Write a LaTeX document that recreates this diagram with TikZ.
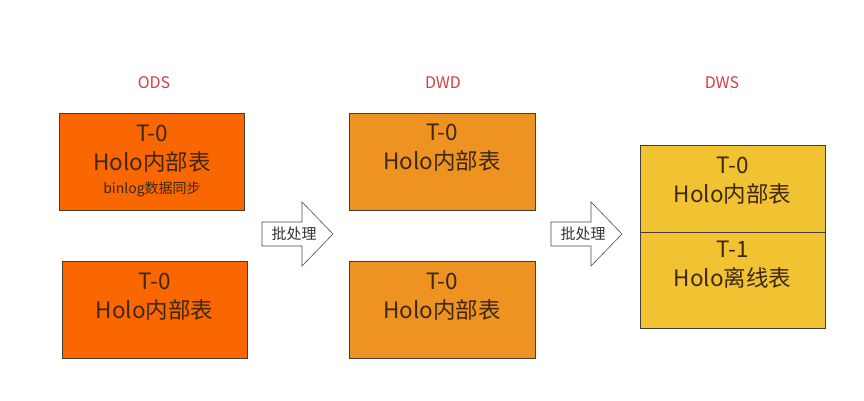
\documentclass[tikz,border=0pt]{standalone}
\usepackage{fontspec}
\setmainfont{Noto Sans CJK SC}
\usetikzlibrary{shapes.arrows}
\definecolor{odsc}{RGB}{250,102,0}
\definecolor{dwdc}{RGB}{238,146,34}
\definecolor{dwsc}{RGB}{241,194,50}
\definecolor{labc}{RGB}{212,62,66}
\definecolor{txtc}{RGB}{60,40,20}
\definecolor{edgec}{RGB}{70,60,50}
\begin{document}
\begin{tikzpicture}[x=1pt,y=-1pt,
  tbl/.style={draw=edgec,line width=0.8pt,minimum width=185pt,minimum height=97pt,inner sep=0pt},
  big/.style={text=txtc,align=center,font=\fontsize{22.5}{29}\selectfont,inner sep=0pt},
  lab/.style={text=labc,font=\fontsize{16}{18}\selectfont},
  batch/.style={draw=black!70,fill=white,line width=0.6pt,line join=miter},
  btxt/.style={font=\fontsize{15}{17}\selectfont,text=black!80,inner sep=0pt}]
\useasboundingbox (0,0) rectangle (864,400);
\node[lab] (ods) at (154,83) {ODS};
\node[lab] (dwd) at (443,83) {DWD};
\node[lab] (dws) at (722,83) {DWS};
% ODS
\node[tbl,fill=odsc] (o1) at (152,161.5) {};
\node[big] (o1t) at (152,149) {T-0\\Holo内部表};
\node[text=txtc,font=\fontsize{14}{15}\selectfont,inner sep=0pt] (o1b) at (152,189) {binlog数据同步};
\node[tbl,fill=odsc] (o2) at (154.5,310) {};
\node[big] (o2t) at (154.5,297) {T-0\\Holo内部表};
% DWD
\node[tbl,fill=dwdc,minimum width=186pt] (d1) at (442,161.5) {};
\node[big] (d1t) at (442,148) {T-0\\Holo内部表};
\node[tbl,fill=dwdc,minimum width=186pt] (d2) at (442,310) {};
\node[big] (d2t) at (442,297) {T-0\\Holo内部表};
% DWS
\node[tbl,fill=dwsc,minimum height=87pt] (s1) at (732.5,188.5) {};
\node[big] (s1t) at (732.5,181) {T-0\\Holo内部表};
\node[tbl,fill=dwsc,minimum height=96pt] (s2) at (732.5,280) {};
\node[big] (s2t) at (732.5,265) {T-1\\Holo离线表};
% arrows
\draw[batch] (262,222) -- (302,222) -- (302,202) -- (333,234) -- (302,266) -- (302,246) -- (262,246) -- cycle;
\node[btxt] (a1) at (294,234) {批处理};
\draw[batch] (551,222) -- (591,222) -- (591,202) -- (622,234) -- (591,266) -- (591,246) -- (551,246) -- cycle;
\node[btxt] (a2) at (583,234) {批处理};
\end{tikzpicture}
\end{document}
